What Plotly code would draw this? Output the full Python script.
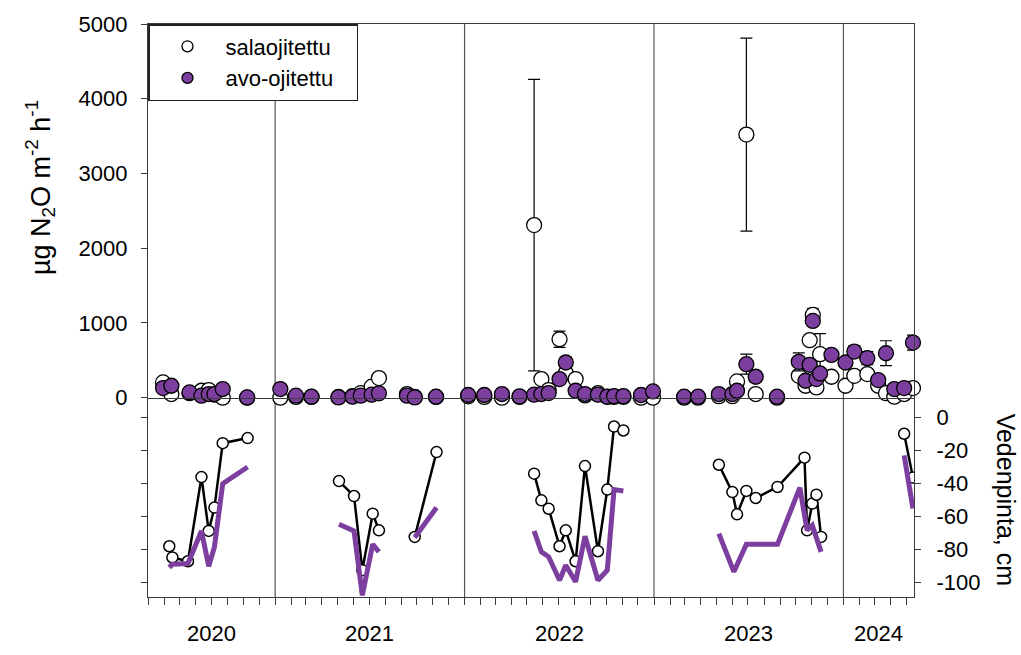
import plotly.graph_objects as go
import pandas as pd

# ---------------- data ----------------
flux_dates = [
    "2020-05-30", "2020-06-15", "2020-07-20", "2020-08-12", "2020-08-26", "2020-09-06", "2020-09-22", "2020-11-08",
    "2021-01-11", "2021-02-10", "2021-03-12", "2021-05-03", "2021-05-30", "2021-06-15", "2021-07-06", "2021-07-20",
    "2021-09-12", "2021-09-27", "2021-11-07",
    "2022-01-08", "2022-02-08", "2022-03-14", "2022-04-17", "2022-05-15", "2022-05-29", "2022-06-12", "2022-07-03",
    "2022-07-15", "2022-08-03", "2022-08-21", "2022-09-15", "2022-10-03", "2022-10-16", "2022-11-03", "2022-12-07",
    "2022-12-30",
    "2023-02-28", "2023-03-27", "2023-05-06", "2023-06-01", "2023-06-10", "2023-06-28", "2023-07-16", "2023-08-26",
    "2023-10-07", "2023-10-20", "2023-10-28", "2023-11-03", "2023-11-10", "2023-11-17", "2023-12-09",
    "2024-01-05", "2024-01-22", "2024-02-16", "2024-03-08", "2024-03-23", "2024-04-08", "2024-04-27", "2024-05-14",
]
sala_flux = [
    204, 49, 60, 93, 102, 40, 0, 0,
    0, 10, 10, 10, 20, 60, 147, 262, 49, 10, 10,
    18, 10, 0, 10, 2310, 249, 102, 782, 330, 249, 30, 60, 10, 10, 10, 0, 0,
    0, 0, 20, 20, 218, 3520, 49, 0, 293, 160, 769, 1107, 137, 582, 280,
    160, 293, 316, 160, 60, 13, 49, 129,
]
sala_err = [
    None, None, None, None, None, None, None, None,
    None, None, None, None, None, None, None, None, None, None, None,
    None, None, None, None, 1950, None, None, 110, None, None, None, None, None, None, None, None, None,
    None, None, None, None, None, 1290, None, None, None, None, None, 90, None, 275, None,
    None, None, None, None, None, None, None, None,
]
avo_flux = [
    129, 160, 71, 27, 49, 49, 116, 4,
    116, 27, 13, 4, 13, 27, 40, 58, 27, 4, 13,
    36, 36, 49, 18, 40, 49, 62, 249, 471, 93, 49, 40, 15, 22, 22, 36, 84,
    13, 13, 49, 49, 93, 449, 280, 13, 480, 227, 440, 1027, 249, 324, 573,
    471, 617, 529, 236, 595, 116, 129, 737,
]
avo_err = [
    None, None, None, None, None, None, None, None,
    None, None, None, None, None, None, None, None, None, None, None,
    None, None, None, None, None, None, None, None, 72, None, None, None, None, None, None, None, None,
    None, None, None, None, None, 133, 67, None, 120, None, None, None, None, None, None,
    None, 76, 88, None, 167, None, None, 100,
]

# water table, cm (segments are separate measurement seasons)
sala_wt_dates = [
    ["2020-06-11", "2020-06-17", "2020-07-17", "2020-08-12", "2020-08-26", "2020-09-06", "2020-09-22", "2020-11-09"],
    ["2021-05-04", "2021-06-02", "2021-06-18", "2021-07-08", "2021-07-20"],
    ["2021-09-27", "2021-11-08"],
    ["2022-05-15", "2022-05-29", "2022-06-12", "2022-07-03", "2022-07-15", "2022-08-03", "2022-08-21", "2022-09-15",
     "2022-10-03", "2022-10-16", "2022-11-03"],
    ["2023-05-06", "2023-06-01", "2023-06-10", "2023-06-28", "2023-07-16", "2023-08-27", "2023-10-18", "2023-10-23",
     "2023-11-02", "2023-11-10", "2023-11-19"],
    ["2024-04-27", "2024-05-14"],
]
sala_wt = [
    [-78.2, -85.0, -87.3, -36.2, -68.9, -54.7, -15.6, -12.5],
    [-38.6, -47.7, -92.7, -58.4, -68.5],
    [-72.5, -21.0],
    [-34.1, -50.3, -55.4, -78.2, -68.5, -87.3, -29.5, -81.2, -43.8, -5.5, -7.9],
    [-28.7, -45.3, -58.8, -44.6, -48.9, -42.2, -24.4, -68.5, -52.3, -46.9, -72.5],
    [-9.9, -36.5],
]
avo_wt_dates = [
    ["2020-06-11", "2020-06-17", "2020-07-17", "2020-08-12", "2020-08-26", "2020-09-06", "2020-09-22", "2020-11-09"],
    ["2021-05-04", "2021-06-02", "2021-06-18", "2021-07-08", "2021-07-20"],
    ["2021-09-27", "2021-11-08"],
    ["2022-05-15", "2022-05-29", "2022-06-12", "2022-07-03", "2022-07-15", "2022-08-03", "2022-08-21", "2022-09-15",
     "2022-10-03", "2022-10-16", "2022-11-03"],
    ["2023-05-06", "2023-06-04", "2023-06-28", "2023-08-27", "2023-10-09", "2023-10-23", "2023-11-02", "2023-11-19"],
    ["2024-04-27", "2024-05-14"],
]
avo_wt = [
    [-91.1, -89.1, -88.7, -68.9, -90.3, -78.6, -40.2, -30.1],
    [-64.8, -68.9, -108.0, -77.0, -81.6],
    [-72.9, -54.7],
    [-68.9, -81.6, -84.6, -98.8, -89.7, -99.8, -72.1, -98.8, -92.7, -43.8, -44.6],
    [-70.5, -93.7, -77.0, -77.0, -42.6, -68.5, -65.5, -81.6],
    [-23.0, -55.3],
]

years = ["2020", "2021", "2022", "2023", "2024"]
year_breaks = ["2021-01-01", "2022-01-01", "2023-01-01", "2024-01-01"]
x_start, x_end = "2020-05-01", "2024-05-16"
flux_ticks = [0, 1000, 2000, 3000, 4000, 5000]
wt_ticks = [0, -20, -40, -60, -80, -100]
wt_ticktext = ["0", "-20", "-40", "-60", "-80", "-100"]

names = ["salaojitettu", "avo-ojitettu"]
PURPLE = "#7d3f9f"
FONT = "Liberation Sans, Arial, sans-serif"


def join_segments(seg_x, seg_y):
    xs, ys = [], []
    for sx, sy in zip(seg_x, seg_y):
        if xs:
            xs.append(None)
            ys.append(None)
        xs.extend(sx)
        ys.extend(sy)
    return xs, ys


fig = go.Figure()

# ---- water table (bottom panel) ----
wx, wy = join_segments(sala_wt_dates, sala_wt)
fig.add_trace(go.Scatter(
    x=wx, y=wy, xaxis="x2", yaxis="y2", mode="lines+markers", showlegend=False,
    line=dict(color="black", width=2.5),
    marker=dict(symbol="circle", size=11, color="white", line=dict(color="black", width=1.5)),
))
ax_, ay_ = join_segments(avo_wt_dates, avo_wt)
fig.add_trace(go.Scatter(
    x=ax_, y=ay_, xaxis="x2", yaxis="y2", mode="lines", showlegend=False,
    line=dict(color=PURPLE, width=5),
))

# ---- N2O flux (top panel) ----
fig.add_trace(go.Scatter(
    x=flux_dates, y=sala_flux, xaxis="x", yaxis="y", mode="markers", name=names[0],
    showlegend=False, cliponaxis=False,
    marker=dict(symbol="circle", size=15, color="white", line=dict(color="black", width=1.3)),
    error_y=dict(type="data", array=sala_err, visible=True, color="black", thickness=1.2, width=6),
))
fig.add_trace(go.Scatter(
    x=flux_dates, y=avo_flux, xaxis="x", yaxis="y", mode="markers", name=names[1],
    showlegend=False, cliponaxis=False,
    marker=dict(symbol="circle", size=15, color=PURPLE, line=dict(color="black", width=1.3)),
    error_y=dict(type="data", array=avo_err, visible=True, color="black", thickness=1.2, width=6),
))
# legend entries
fig.add_trace(go.Scatter(
    x=[None], y=[None], mode="markers", name=names[0] + "\u00a0" * 3,
    marker=dict(symbol="circle", size=11, color="white", line=dict(color="black", width=1.3)),
))
fig.add_trace(go.Scatter(
    x=[None], y=[None], mode="markers", name=names[1] + "\u00a0" * 3,
    marker=dict(symbol="circle", size=11, color=PURPLE, line=dict(color="black", width=1.3)),
))

split = 200 / 575
LINEC = "#3a3a3a"

fig.update_layout(
    width=1021, height=655,
    margin=dict(l=148, r=107, t=22, b=58),
    paper_bgcolor="white", plot_bgcolor="white",
    font=dict(family=FONT, size=22, color="black"),
    showlegend=True,
    legend=dict(
        x=0.0, y=1.0, xanchor="left", yanchor="top",
        bgcolor="white", bordercolor="#222", borderwidth=1.5,
        font=dict(size=22, family=FONT), itemwidth=66,
        tracegroupgap=0,
    ),
    xaxis=dict(
        domain=[0, 1], anchor="y", type="date", range=[x_start, x_end],
        showline=True, linecolor=LINEC, linewidth=1.3, mirror=True,
        ticks="", showticklabels=False, showgrid=False, zeroline=False,
    ),
    yaxis=dict(
        domain=[split, 1], anchor="x", range=[0, 5000],
        tickvals=flux_ticks, ticks="outside", ticklen=6, tickcolor=LINEC,
        ticklabelstandoff=9,
        showline=True, linecolor=LINEC, linewidth=1.3, mirror=True,
        showgrid=False, zeroline=False, tickfont=dict(size=22),
    ),
    xaxis2=dict(
        domain=[0, 1], anchor="y2", type="date", matches="x", range=[x_start, x_end],
        showline=True, linecolor=LINEC, linewidth=1.3,
        ticks="outside", ticklen=7, tickcolor=LINEC, dtick="M1", tick0=x_start,
        showticklabels=False, showgrid=False, zeroline=False,
    ),
    yaxis2=dict(
        domain=[0, split], anchor="x2", range=[-109, 12], side="right",
        tickvals=wt_ticks, ticktext=wt_ticktext, ticks="outside", ticklen=6, tickcolor=LINEC,
        ticklabelstandoff=11,
        showline=True, linecolor=LINEC, linewidth=1.3, mirror="ticks",
        showgrid=False, zeroline=False, tickfont=dict(size=22),
    ),
)

# year separator lines
for d in year_breaks:
    fig.add_shape(type="line", xref="x", yref="paper", x0=d, x1=d, y0=0, y1=1,
                  line=dict(color="#555", width=1.2), layer="below")

# year labels, centred on the visible part of each year
lo, hi = pd.Timestamp(x_start), pd.Timestamp(x_end)
for yname in years:
    a = max(pd.Timestamp(f"{yname}-01-01"), lo)
    b = min(pd.Timestamp(f"{int(yname) + 1}-01-01"), hi)
    mid = a + (b - a) / 2
    fig.add_annotation(text=yname, x=mid.strftime("%Y-%m-%d"), xref="x2", y=-0.064, yref="paper",
                       showarrow=False, font=dict(size=22, family=FONT), yanchor="middle")

# axis titles
fig.add_annotation(text="µg N<sub>2</sub>O m<sup>-2</sup> h<sup>-1</sup>", textangle=-90,
                   x=-0.14, xref="paper", y=0.715, yref="paper", showarrow=False,
                   font=dict(size=27, family=FONT), xanchor="center", yanchor="middle")
fig.add_annotation(text="Vedenpinta, cm", textangle=90,
                   x=1.12, xref="paper", y=0.17, yref="paper", showarrow=False,
                   font=dict(size=25, family=FONT), xanchor="center", yanchor="middle")

fig.write_html("out.html")
